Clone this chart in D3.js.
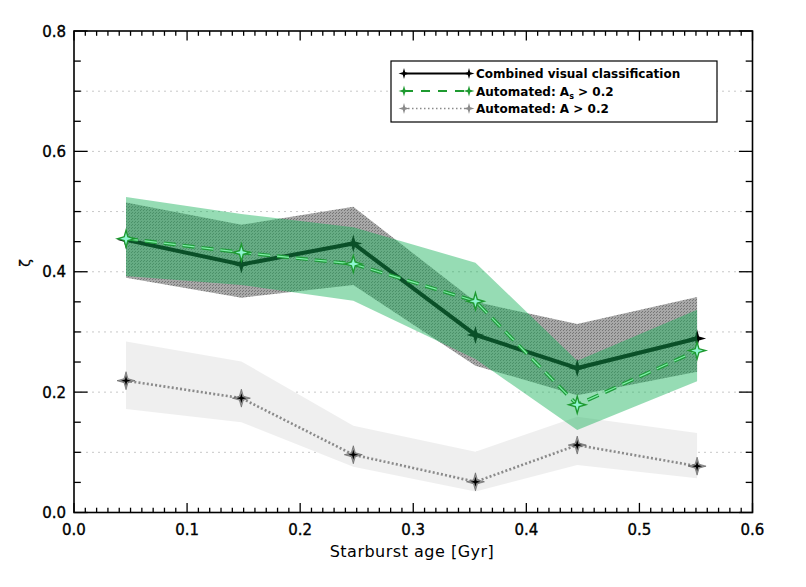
<!DOCTYPE html>
<html><head><meta charset="utf-8">
<script src="https://cdn.jsdelivr.net/npm/d3@7"></script>
<style>body{margin:0;background:#fff}svg{display:block}</style>
</head><body><svg id="c" width="806" height="587"></svg>
<script>
const ages      = [0.046, 0.148, 0.247, 0.355, 0.445, 0.551];
const visual    = [0.453, 0.412, 0.447, 0.295, 0.240, 0.289];
const visualLo  = [0.390, 0.357, 0.378, 0.244, 0.195, 0.234];
const visualHi  = [0.515, 0.478, 0.508, 0.350, 0.313, 0.358];
const autoAs    = [0.455, 0.432, 0.413, 0.351, 0.179, 0.269];
const autoAsLo  = [0.393, 0.378, 0.352, 0.255, 0.137, 0.218];
const autoAsHi  = [0.524, 0.496, 0.474, 0.415, 0.252, 0.337];
const autoA     = [0.219, 0.190, 0.096, 0.051, 0.112, 0.077];
const autoALo   = [0.172, 0.150, 0.076, 0.035, 0.079, 0.057];
const autoAHi   = [0.284, 0.251, 0.144, 0.101, 0.159, 0.132];
const xTicks = [0, 0.1, 0.2, 0.3, 0.4, 0.5, 0.6];
const yTicks = [0, 0.2, 0.4, 0.6, 0.8];
const gridVals = [0.1, 0.2, 0.3, 0.4, 0.5, 0.6, 0.7];
const legendLabels = ["Combined visual classification", "Automated: A", "Automated: A"];

const svg = d3.select("#c");
const L = 74, R = 752.5, T = 31, B = 512.5;
const x = d3.scaleLinear().domain([0, 0.6]).range([L, R]);
const y = d3.scaleLinear().domain([0, 0.8]).range([B, T]);

const defs = svg.append("defs");
function stripes(id, bg, fg, w, size, dir) {
  const p = defs.append("pattern").attr("id", id).attr("patternUnits", "userSpaceOnUse")
    .attr("width", size).attr("height", size);
  p.append("rect").attr("width", size).attr("height", size).attr("fill", bg);
  const d = dir > 0 ? `M${-size},${size} L${size},${-size} M0,${2*size} L${2*size},0`
                    : `M${-size},0 L${size},${2*size} M0,${-size} L${2*size},${size}`;
  p.append("path").attr("d", d).attr("stroke", fg).attr("stroke-width", w);
}
stripes("sBlack", "#a8a8a8", "#444", 1.4, 3, -1);
const pc = defs.append("pattern").attr("id", "hGray").attr("patternUnits", "userSpaceOnUse").attr("width", 5).attr("height", 5);
pc.append("rect").attr("width", 5).attr("height", 5).attr("fill", "#efefef");
pc.append("path").attr("d", "M-5,5 L5,-5 M0,10 L10,0 M-5,0 L5,10 M0,-5 L10,5").attr("stroke", "#c6c6c6").attr("stroke-width", 0.9);

// gridlines
svg.append("g").selectAll("line").data(gridVals).join("line")
  .attr("x1", L).attr("x2", R).attr("y1", d => y(d)).attr("y2", d => y(d))
  .attr("stroke", "#c8c8c8").attr("stroke-width", 1).attr("stroke-dasharray", "2,4");

const area = (lo, hi) => d3.area().x((d, i) => x(ages[i])).y0((d, i) => y(lo[i])).y1((d, i) => y(hi[i]))(ages);
const line = vals => d3.line().x((d, i) => x(ages[i])).y((d, i) => y(vals[i]))(ages);
function star(r) {
  const a = r * 0.22;
  return `M0,${-r} L${a},${-a} L${r},0 L${a},${a} L0,${r} L${-a},${a} L${-r},0 L${-a},${-a} Z`;
}

// gray A band + series
svg.append("path").attr("d", area(autoALo, autoAHi)).attr("fill", "url(#hGray)");
svg.append("path").attr("d", line(autoA)).attr("fill", "none").attr("stroke", "#8a8a8a")
  .attr("stroke-width", 2.6).attr("stroke-dasharray", "2,2.2");
const gA = svg.append("g");
gA.selectAll("path.o").data(ages).join("path").attr("class", "o")
  .attr("transform", (d, i) => `translate(${x(d)},${y(autoA[i])})`).attr("d", star(9)).attr("fill", "#9a9a9a").attr("stroke", "#555").attr("stroke-width", 0.6);
gA.selectAll("path.i").data(ages).join("path").attr("class", "i")
  .attr("transform", (d, i) => `translate(${x(d)},${y(autoA[i])})`).attr("d", star(5)).attr("fill", "#000");

// black visual band + series
svg.append("path").attr("d", area(visualLo, visualHi)).attr("fill", "url(#sBlack)");
svg.append("path").attr("d", line(visual)).attr("fill", "none").attr("stroke", "#000").attr("stroke-width", 4);
svg.append("g").selectAll("path").data(ages).join("path")
  .attr("transform", (d, i) => `translate(${x(d)},${y(visual[i])})`).attr("d", star(9)).attr("fill", "#000");

// green As band + series
svg.append("path").attr("d", area(autoAsLo, autoAsHi)).attr("fill", "rgb(22,178,89)").attr("fill-opacity", 0.45);
svg.append("path").attr("d", line(autoAs)).attr("fill", "none").attr("stroke", "#1f9a3a")
  .attr("stroke-width", 3.6).attr("stroke-dasharray", "12,7");
svg.append("path").attr("d", line(autoAs)).attr("fill", "none").attr("stroke", "#7ff0a8")
  .attr("stroke-width", 1.2).attr("stroke-dasharray", "12,7");
const gG = svg.append("g");
gG.selectAll("path.o").data(ages).join("path").attr("class", "o")
  .attr("transform", (d, i) => `translate(${x(d)},${y(autoAs[i])})`).attr("d", star(11)).attr("fill", "#1e9a30");
gG.selectAll("path.i").data(ages).join("path").attr("class", "i")
  .attr("transform", (d, i) => `translate(${x(d)},${y(autoAs[i])})`).attr("d", star(6)).attr("fill", "#8ff5d0");

// frame & ticks
const fr = svg.append("g");
fr.append("rect").attr("x", L).attr("y", T).attr("width", R - L).attr("height", B - T)
  .attr("fill", "none").attr("stroke", "#000").attr("stroke-width", 1.6);
const xMinor = d3.range(0, 61).map(i => i / 100);
const yMinor = d3.range(0, 17).map(i => i * 0.05);
fr.selectAll("line.xb").data(xMinor).join("line").attr("class", "xb")
  .attr("x1", d => x(d)).attr("x2", d => x(d)).attr("y1", B).attr("y2", (d, i) => B - (i % 10 === 0 ? 9.6 : 4.8))
  .attr("stroke", "#000").attr("stroke-width", 1.3);
fr.selectAll("line.xt").data(xMinor).join("line").attr("class", "xt")
  .attr("x1", d => x(d)).attr("x2", d => x(d)).attr("y1", T).attr("y2", (d, i) => T + (i % 10 === 0 ? 9.6 : 4.8))
  .attr("stroke", "#000").attr("stroke-width", 1.3);
fr.selectAll("line.yl").data(yMinor).join("line").attr("class", "yl")
  .attr("y1", d => y(d)).attr("y2", d => y(d)).attr("x1", L).attr("x2", (d, i) => L + (i % 4 === 0 ? 13.6 : 6.8))
  .attr("stroke", "#000").attr("stroke-width", 1.3);
fr.selectAll("line.yr").data(yMinor).join("line").attr("class", "yr")
  .attr("y1", d => y(d)).attr("y2", d => y(d)).attr("x1", R).attr("x2", (d, i) => R - (i % 4 === 0 ? 13.6 : 6.8))
  .attr("stroke", "#000").attr("stroke-width", 1.3);

const font = "DejaVu Sans, sans-serif";
svg.append("g").selectAll("text").data(xTicks).join("text")
  .attr("x", d => x(d)).attr("y", 535).attr("text-anchor", "middle")
  .attr("font-family", font).attr("font-size", 15).attr("stroke", "#000").attr("stroke-width", 0.35)
  .text(d => d3.format(".1f")(d));
svg.append("g").selectAll("text").data(yTicks).join("text")
  .attr("x", 66).attr("y", d => y(d) + 5.5).attr("text-anchor", "end")
  .attr("font-family", font).attr("font-size", 15).attr("stroke", "#000").attr("stroke-width", 0.35)
  .text(d => d3.format(".1f")(d));
svg.append("text").attr("x", 412).attr("y", 557).attr("text-anchor", "middle")
  .attr("font-family", font).attr("font-size", 16).attr("letter-spacing", 0.5).text("Starburst age [Gyr]");
svg.append("text").attr("transform", "translate(30,263) rotate(-90)").attr("text-anchor", "middle")
  .attr("font-family", font).attr("font-size", 14).attr("stroke", "#000").attr("stroke-width", 0.3).text("ζ");

// legend
const lg = svg.append("g");
lg.append("rect").attr("x", 391).attr("y", 61).attr("width", 326).attr("height", 61)
  .attr("fill", "#fff").attr("stroke", "#000").attr("stroke-width", 1.2);
const rows = [
  {c: "#000", dash: null, w: 1.8, sc: "#000"},
  {c: "#1e9a30", dash: "9,8", w: 1.8, sc: "#1e9a30"},
  {c: "#8a8a8a", dash: "1.5,2.5", w: 1.6, sc: "#8a8a8a"}
];
rows.forEach((r, k) => {
  const yy = 73.5 + k * 17.5;
  lg.append("line").attr("x1", 404).attr("x2", 469).attr("y1", yy).attr("y2", yy)
    .attr("stroke", r.c).attr("stroke-width", r.w).attr("stroke-dasharray", r.dash);
  [404, 469].forEach(px => lg.append("path").attr("transform", `translate(${px},${yy})`).attr("d", star(5.5)).attr("fill", r.sc));
  const t = lg.append("text").attr("x", 476).attr("y", yy + 4.5).attr("font-family", font)
    .attr("font-weight", "bold").attr("font-size", 12).text(legendLabels[k]);
  if (k === 1) { t.append("tspan").attr("font-size", 8).attr("dy", 3).text("s"); t.append("tspan").attr("dy", -3).text(" > 0.2"); }
  if (k === 2) { t.append("tspan").text(" > 0.2"); }
});
</script></body></html>
